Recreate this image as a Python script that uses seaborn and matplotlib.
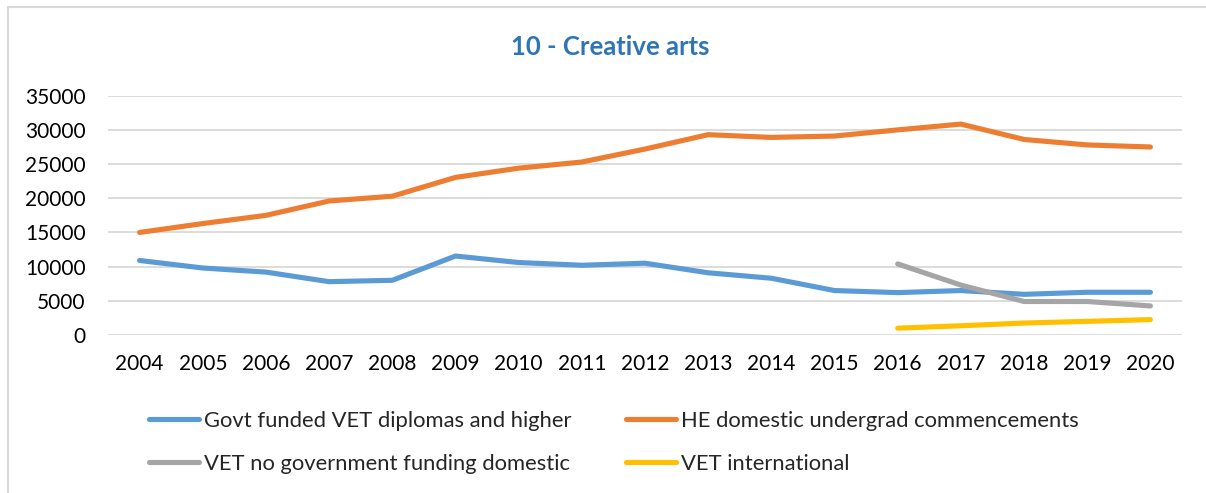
import numpy as np
import pandas as pd
import matplotlib
matplotlib.use("Agg")
import matplotlib.pyplot as plt
import seaborn as sns
from matplotlib.patches import Rectangle

years = list(range(2004, 2021))

govt_vet = [10900, 9800, 9200, 7800, 8000, 11550, 10600, 10200, 10500,
            9100, 8300, 6500, 6200, 6500, 5950, 6250, 6250]
he_domestic = [15000, 16300, 17500, 19600, 20300, 23050, 24400, 25300, 27200,
               29300, 28900, 29100, 30000, 30850, 28600, 27800, 27500]
vet_no_govt = [np.nan] * 12 + [10400, 7300, 4900, 4900, 4250]
vet_intl = [np.nan] * 12 + [1000, 1350, 1750, 2000, 2250]

series_names = [
    "Govt funded VET diplomas and higher",
    "HE domestic undergrad commencements",
    "VET no government funding domestic",
    "VET international",
]
colors = ["#5B9BD5", "#ED7D31", "#A5A5A5", "#FFC000"]
title = "10 - Creative arts"

df = pd.DataFrame({
    "Year": years,
    series_names[0]: govt_vet,
    series_names[1]: he_domestic,
    series_names[2]: vet_no_govt,
    series_names[3]: vet_intl,
})
long = df.melt(id_vars="Year", var_name="Series", value_name="Value").dropna()

sns.set_theme(style="white")
plt.rcParams["font.family"] = ["Lato", "DejaVu Sans"]

W, H = 1206, 493
fig = plt.figure(figsize=(W / 100, H / 100), dpi=100)
ax = fig.add_axes([108 / W, 1 - 335 / H, (1182 - 108) / W, (335 - 95.7) / H])

sns.lineplot(
    data=long, x="Year", y="Value", hue="Series",
    hue_order=series_names, palette=colors, linewidth=3.7,
    ax=ax, legend=False, solid_capstyle="round",
)

ax.set_xlim(2003.5, 2020.5)
ax.set_ylim(0, 35000)
ax.set_yticks(np.arange(0, 35001, 5000))
ax.set_xticks(years)
ax.set_xticklabels([str(y) for y in years])
ax.grid(axis="y", color="#D9D9D9", linewidth=1.3)
ax.set_axisbelow(True)
for s in ax.spines.values():
    s.set_visible(False)
ax.tick_params(axis="both", length=0, labelsize=15, colors="#000000")
ax.tick_params(axis="y", pad=16)
ax.tick_params(axis="x", pad=14)
ax.set_xlabel("")
ax.set_ylabel("")

fig.text(610 / W, 1 - 47 / H, title, ha="center", va="center",
         fontsize=18.5, fontweight="bold", color="#2E75B6")

# legend filled row by row: two entries per row
handles = [plt.Line2D([], [], color=c, linewidth=3.7, solid_capstyle="round")
           for c in colors]
order = [0, 2, 1, 3]
fig.legend([handles[i] for i in order], [series_names[i] for i in order],
           ncol=2, frameon=False,
           loc="upper left", bbox_to_anchor=(129 / W, 1 - 391 / H),
           fontsize=15.8, handlelength=2.3, handletextpad=0.2,
           columnspacing=2.5, labelspacing=1.05)

# chart area border
fig.patches.append(Rectangle((8 / W, -0.1), 1.2, 1 - 7 / H + 0.1,
                             transform=fig.transFigure, fill=False,
                             edgecolor="#D9D9D9", linewidth=1.5))

fig.savefig("out.png", dpi=100, facecolor="white")
